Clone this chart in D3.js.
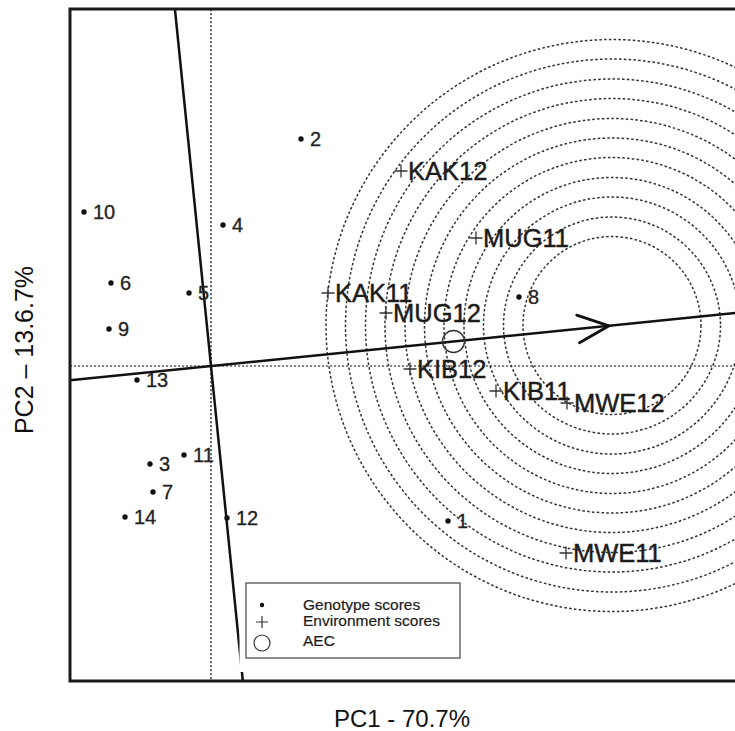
<!DOCTYPE html>
<html>
<head>
<meta charset="utf-8">
<script src="https://cdn.jsdelivr.net/npm/d3@7"></script>
<style>
  html, body { margin: 0; padding: 0; background: #fff; }
  svg { display: block; font-family: "Liberation Sans", Arial, sans-serif; }
</style>
</head>
<body>
<svg id="chart" width="735" height="731"></svg>
<script>
// ---- Data ----
const genotypeLabels = ["1","2","3","4","5","6","7","8","9","10","11","12","13","14"];
const genotypePC1 = [4.74, 1.80, -1.22, 0.24, -0.44, -2.00, -1.16, 6.16, -2.04, -2.54, -0.54, 0.32, -1.48, -1.72];
const genotypePC2 = [-3.10, 4.54, -1.96, 2.82, 1.46, 1.66, -2.52, 1.38, 0.74, 3.08, -1.78, -3.04, -0.28, -3.02];

const envLabels = ["KAK12","MUG11","KAK11","MUG12","KIB12","KIB11","MWE12","MWE11"];
const envPC1 = [3.80, 5.30, 2.34, 3.50, 3.98, 5.70, 7.12, 7.10];
const envPC2 = [3.90, 2.56, 1.46, 1.06, -0.06, -0.50, -0.74, -3.74];

const aecPoint = [4.85, 0.49];          // average environment coordinate
const idealPoint = [8.02, 0.81];        // centre of concentric rings / arrow tip
const ringRadii = [1.78, 2.17, 2.57, 2.96, 3.36, 3.75, 4.14, 4.54, 4.93, 5.33, 5.72];

const xDomain = [-2.82, 10.48];
const yDomain = [-6.30, 7.14];
const xTitle = "PC1 - 70.7%";
const yTitle = "PC2 \u2013 13.6.7%";
const legendLabels = ["Genotype scores", "Environment scores", "AEC"];

// ---- Layout ----
const svg = d3.select("#chart");
const L = 70, T = 9, B = 681, R = 735;
const x = d3.scaleLinear().domain(xDomain).range([L, R]);
const y = d3.scaleLinear().domain(yDomain).range([B, T]);
const unit = x(1) - x(0);

svg.append("defs").append("clipPath").attr("id", "plotclip")
  .append("rect").attr("x", L).attr("y", T).attr("width", R - L + 10).attr("height", B - T);

const g = svg.append("g").attr("clip-path", "url(#plotclip)");

// crosshair dotted axes
g.append("line").attr("x1", x(0)).attr("x2", x(0)).attr("y1", T).attr("y2", B)
  .attr("stroke", "#111").attr("stroke-width", 1.2).attr("stroke-dasharray", "2.2,1.8");
g.append("line").attr("x1", L).attr("x2", R + 10).attr("y1", y(0)).attr("y2", y(0))
  .attr("stroke", "#111").attr("stroke-width", 1.2).attr("stroke-dasharray", "2.2,1.8");

// concentric rings
g.selectAll("circle.ring").data(ringRadii).join("circle")
  .attr("class", "ring")
  .attr("cx", x(idealPoint[0])).attr("cy", y(idealPoint[1]))
  .attr("r", d => d * unit)
  .attr("fill", "none").attr("stroke", "#333").attr("stroke-width", 1.5)
  .attr("stroke-dasharray", "2.6,2.2");

// AEC abscissa (through origin and AEC point)
const slope = aecPoint[1] / aecPoint[0];
g.append("line")
  .attr("x1", x(xDomain[0])).attr("y1", y(slope * xDomain[0]))
  .attr("x2", x(xDomain[1] + 1)).attr("y2", y(slope * (xDomain[1] + 1)))
  .attr("stroke", "#111").attr("stroke-width", 2.5);
// AEC ordinate (perpendicular through origin)
g.append("line")
  .attr("x1", x(-slope * yDomain[1])).attr("y1", y(yDomain[1]))
  .attr("x2", x(-slope * yDomain[0])).attr("y2", y(yDomain[0]))
  .attr("stroke", "#111").attr("stroke-width", 2.5);

// arrow head at ideal point
const tipX = x(idealPoint[0]) - 3, tipY = y(idealPoint[1]) + 0.3;
const ang = Math.atan2(y(slope) - y(0), x(1) - x(0));
const armLen = 34, spread = 0.42;
const a1 = [tipX - armLen * Math.cos(ang - spread), tipY - armLen * Math.sin(ang - spread)];
const a2 = [tipX - armLen * Math.cos(ang + spread), tipY - armLen * Math.sin(ang + spread)];
g.append("path")
  .attr("d", `M${a1[0]},${a1[1]}L${tipX},${tipY}L${a2[0]},${a2[1]}`)
  .attr("fill", "none").attr("stroke", "#111").attr("stroke-width", 2.8)
  .attr("stroke-linejoin", "miter").attr("stroke-linecap", "round");

// AEC small circle
g.append("circle").attr("cx", x(aecPoint[0])).attr("cy", y(aecPoint[1])).attr("r", 11)
  .attr("fill", "none").attr("stroke", "#333").attr("stroke-width", 1.4);

// genotype points
const geno = genotypeLabels.map((l, i) => ({ l, px: genotypePC1[i], py: genotypePC2[i] }));
g.selectAll("circle.geno").data(geno).join("circle").attr("class", "geno")
  .attr("cx", d => x(d.px)).attr("cy", d => y(d.py)).attr("r", 2.7).attr("fill", "#111");
g.selectAll("text.geno").data(geno).join("text").attr("class", "geno")
  .attr("x", d => x(d.px) + 9).attr("y", d => y(d.py)).attr("dy", "0.36em")
  .attr("font-size", 20).attr("fill", "#222").attr("stroke", "#222").attr("stroke-width", 0.3)
  .text(d => d.l);

// environment points
const env = envLabels.map((l, i) => ({ l, px: envPC1[i], py: envPC2[i] }));
const envG = g.selectAll("g.env").data(env).join("g").attr("class", "env")
  .attr("transform", d => `translate(${x(d.px)},${y(d.py)})`);
envG.append("path").attr("d", "M-6.5,0H6.5M0,-6.5V6.5").attr("stroke", "#333").attr("stroke-width", 1.3);
envG.append("text").attr("x", 7).attr("dy", "0.36em").attr("font-size", 25.5)
  .attr("fill", "#1c1c1c").attr("stroke", "#1c1c1c").attr("stroke-width", 0.45)
  .text(d => d.l);

// legend
const lg = svg.append("g");
lg.append("rect").attr("x", 239.5).attr("y", 578).attr("width", 226).attr("height", 94).attr("fill", "#fff");
lg.append("rect").attr("x", 246).attr("y", 583).attr("width", 214).attr("height", 75)
  .attr("fill", "#fff").attr("stroke", "#444").attr("stroke-width", 1.2);
lg.append("circle").attr("cx", 262).attr("cy", 605).attr("r", 2.2).attr("fill", "#111");
lg.append("path").attr("d", "M256,622H268M262,616V628").attr("stroke", "#333").attr("stroke-width", 1.2);
lg.append("circle").attr("cx", 262).attr("cy", 643).attr("r", 8).attr("fill", "none").attr("stroke", "#333").attr("stroke-width", 1.2);
lg.selectAll("text").data(legendLabels).join("text")
  .attr("x", 303).attr("y", (d, i) => [609.5, 625.5, 646][i])
  .attr("font-size", 15.5).attr("fill", "#1a1a1a").attr("stroke", "#1a1a1a").attr("stroke-width", 0.2)
  .text(d => d);

// frame
svg.append("path").attr("d", `M${R + 10},${T}H${L}V${B}H${R + 10}`)
  .attr("fill", "none").attr("stroke", "#1a1a1a").attr("stroke-width", 3);

// axis titles
svg.append("text").attr("x", 402).attr("y", 727).attr("text-anchor", "middle")
  .attr("font-size", 24).attr("fill", "#111").text(xTitle);
svg.append("text").attr("transform", "translate(33,350) rotate(-90)").attr("text-anchor", "middle")
  .attr("font-size", 25).attr("fill", "#111").text(yTitle);
</script>
</body>
</html>
